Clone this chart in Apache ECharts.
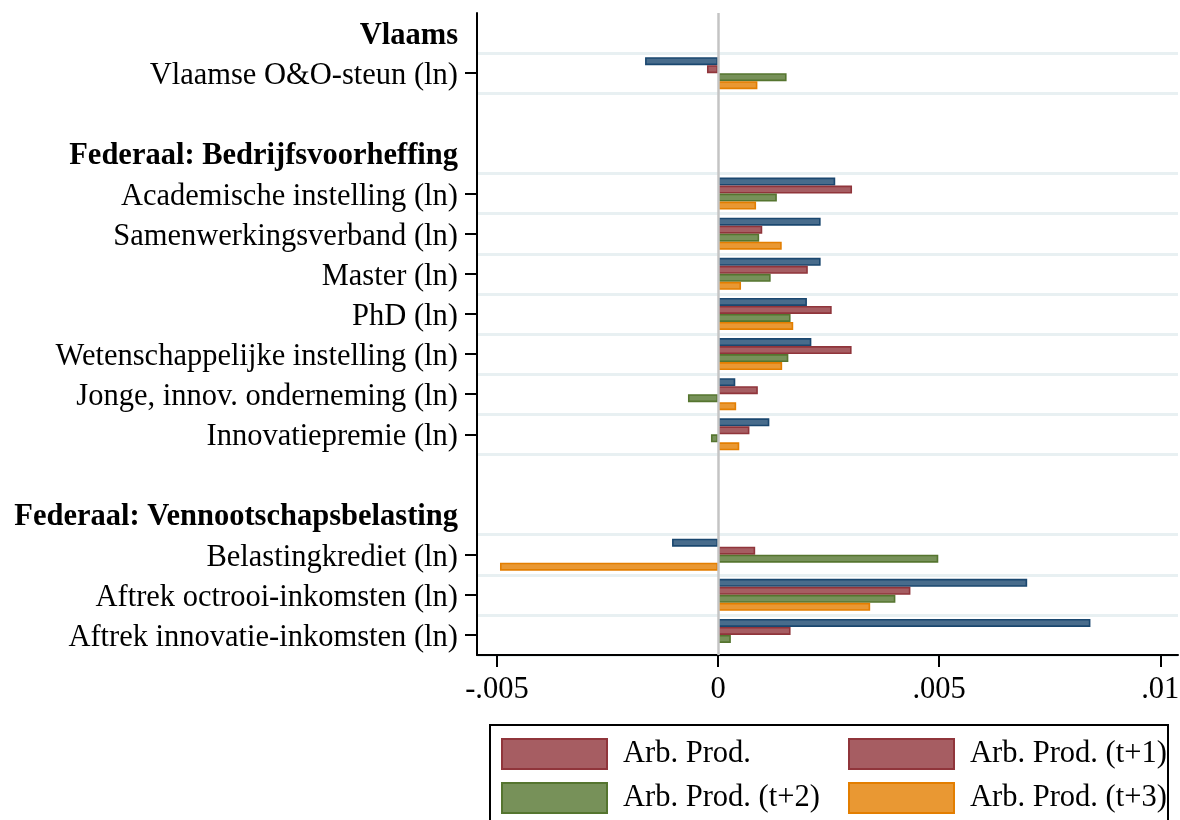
<!DOCTYPE html>
<html>
<head>
<meta charset="utf-8">
<script src="https://cdn.jsdelivr.net/npm/echarts@6/dist/echarts.min.js"></script>
<style>
    html, body { margin: 0; padding: 0; background: #fff; }
    #container { width: 1180px; height: 820px; }
</style>
</head>
<body>
<div id="container"></div>
<script>
// rijen van boven naar onder (lege rijen = witruimte tussen groepen)
var categories = [
    'Vlaams',
    'Vlaamse O&O-steun (ln)',
    ' ',
    'Federaal: Bedrijfsvoorheffing',
    'Academische instelling (ln)',
    'Samenwerkingsverband (ln)',
    'Master (ln)',
    'PhD (ln)',
    'Wetenschappelijke instelling (ln)',
    'Jonge, innov. onderneming (ln)',
    'Innovatiepremie (ln)',
    '  ',
    'Federaal: Vennootschapsbelasting',
    'Belastingkrediet (ln)',
    'Aftrek octrooi-inkomsten (ln)',
    'Aftrek innovatie-inkomsten (ln)'
];
var headings = ['Vlaams', 'Federaal: Bedrijfsvoorheffing', 'Federaal: Vennootschapsbelasting'];

var seriesNames = ['Arb. Prod.', 'Arb. Prod. (t+1)', 'Arb. Prod. (t+2)', 'Arb. Prod. (t+3)'];

var prodT0 = [null, -0.00165, null, null, 0.00265, 0.00232, 0.00232, 0.00201, 0.00211, 0.00039, 0.00116, null, null, -0.00104, 0.00699, 0.00842];
var prodT1 = [null, -0.00025, null, null, 0.00303, 0.00100, 0.00203, 0.00257, 0.00302, 0.00090, 0.00071, null, null, 0.00084, 0.00435, 0.00164];
var prodT2 = [null, 0.00155, null, null, 0.00133, 0.00093, 0.00119, 0.00164, 0.00159, -0.00068, -0.00016, null, null, 0.00498, 0.00401, 0.00029];
var prodT3 = [null, 0.00089, null, null, 0.00086, 0.00144, 0.00052, 0.00170, 0.00145, 0.00041, 0.00048, null, null, -0.00493, 0.00344, null];

var xTicks = [-0.005, 0, 0.005, 0.01];
var xTickLabels = ['-.005', '0', '.005', '.01'];

var lineColors = ['#1a476f', '#90353b', '#55752f', '#e37e00'];
var fillColors = ['#486c8c', '#a65d62', '#779159', '#e99833'];

var FONT = '"Liberation Serif", "Times New Roman", serif';
var FS = 30.5;

function isDataRow(i) {
    if (i < 0 || i >= categories.length) return false;
    return headings.indexOf(categories[i]) < 0 && categories[i].trim() !== '';
}

function makeSeries(idx, values) {
    var s = {
        name: seriesNames[idx],
        type: 'bar',
        data: values,
        barWidth: 8,
        barGap: '0%',
        itemStyle: {
            color: fillColors[idx],
            borderColor: lineColors[idx],
            borderWidth: 1.6
        }
    };
    if (idx == 0) {
        s.markLine = {
            silent: true,
            symbol: 'none',
            label: {show: false},
            lineStyle: {color: '#c4c4c4', width: 2.5, type: 'solid'},
            data: [{xAxis: 0}]
        };
    }
    return s;
}

function legendItem(k) {
    // Stata-eigenaardigheid: eerste legendasleutel staat in rood
    var c = k == 0 ? 1 : k;
    return {
        name: seriesNames[k],
        itemStyle: {color: fillColors[c], borderColor: lineColors[c], borderWidth: 2}
    };
}

function legendColumn(left, items) {
    return {
        orient: 'vertical',
        left: left,
        top: 738,
        itemWidth: 105,
        itemHeight: 30,
        itemGap: 12,
        icon: 'rect',
        padding: 0,
        data: items,
        textStyle: {
            fontFamily: FONT,
            fontSize: FS,
            color: '#000',
            padding: [0, 0, 0, 11]
        }
    };
}

var myChart = echarts.init(document.getElementById('container'), null, {renderer: 'canvas'});

var option = {
    backgroundColor: '#fff',
    animation: false,
    grid: {
        left: 477,
        right: 2,
        top: 13,
        bottom: 165,
        outerBoundsMode: 'none'
    },
    graphic: [{
        type: 'rect',
        z: 0,
        shape: {x: 490, y: 725, width: 678, height: 120},
        style: {fill: '#fff', stroke: '#000', lineWidth: 2}
    }],
    legend: [
        legendColumn(501, [legendItem(0), legendItem(2)]),
        legendColumn(848, [legendItem(1), legendItem(3)])
    ],
    xAxis: {
        type: 'value',
        min: -0.00545,
        max: 0.0104,
        axisLine: {show: true, onZero: false, lineStyle: {color: '#000', width: 2}},
        axisTick: {show: true, length: 12, lineStyle: {color: '#000', width: 2}, customValues: xTicks},
        axisLabel: {
            customValues: xTicks,
            margin: 19,
            fontFamily: FONT,
            fontSize: FS,
            color: '#000',
            formatter: function (v) {
                for (var i = 0; i < xTicks.length; i++) {
                    if (Math.abs(v - xTicks[i]) < 1e-9) return xTickLabels[i];
                }
                return '';
            }
        },
        splitLine: {show: false}
    },
    yAxis: {
        type: 'category',
        inverse: true,
        data: categories,
        axisLine: {show: true, onZero: false, lineStyle: {color: '#000', width: 2}},
        axisTick: {
            show: true,
            alignWithLabel: true,
            length: 12,
            lineStyle: {color: '#000', width: 2},
            interval: function (i) { return isDataRow(i); }
        },
        axisLabel: {
            interval: 0,
            margin: 19,
            fontFamily: FONT,
            fontSize: FS,
            color: '#000',
            padding: [6, 0, 0, 0],
            formatter: function (v) {
                if (headings.indexOf(v) >= 0) return '{h|' + v + '}';
                return v;
            },
            rich: {
                h: {fontFamily: FONT, fontSize: FS, fontWeight: 'bold', color: '#000'}
            }
        },
        splitLine: {
            show: true,
            lineStyle: {color: '#e8f0f2', width: 3},
            interval: function (i) { return isDataRow(i) || isDataRow(i - 1); }
        }
    },
    series: [
        makeSeries(0, prodT0),
        makeSeries(1, prodT1),
        makeSeries(2, prodT2),
        makeSeries(3, prodT3)
    ]
};

myChart.setOption(option);
</script>
</body>
</html>
